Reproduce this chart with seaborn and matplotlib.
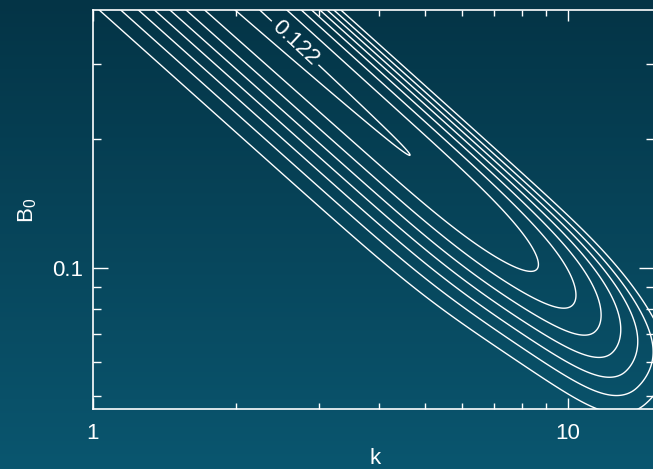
import numpy as np
import matplotlib
matplotlib.use("Agg")
import matplotlib.pyplot as plt
import seaborn as sns
from matplotlib.colors import LinearSegmentedColormap
from matplotlib.ticker import FixedLocator, FixedFormatter, NullFormatter

sns.set_theme(style="ticks")
plt.rcParams['font.family'] = ['Liberation Sans', 'DejaVu Sans']
plt.rcParams['mathtext.fontset'] = 'custom'
plt.rcParams['mathtext.rm'] = 'Liberation Sans'
plt.rcParams['mathtext.it'] = 'Liberation Sans'

# axis ranges
k_range = [1.0, 15.17]
b0_range = [0.0466, 0.4027]

# contour levels of the growth rate
contour_levels = [0.0271, 0.0407, 0.0542, 0.0678, 0.0813, 0.0949, 0.1085, 0.122]
labelled_level = 0.122
label_pos = (2.70, 0.342)
peak_rate = 0.1356

x_major = [1, 10]
x_major_labels = ["1", "10"]
x_minor = [2, 3, 4, 5, 6, 7, 8, 9]
y_major = [0.1]
y_major_labels = ["0.1"]
y_minor = [0.05, 0.06, 0.07, 0.08, 0.09, 0.2, 0.3]

# growth-rate model in log coordinates (u = log10 k, v = log10 B0)
ridge_offset = -0.068      # log10(k*B0) along the ridge crest
ridge_bend = 0.25
plateau = 0.91
plateau_slope = 0.0144
cutoff_start = 1.3
cutoff_width = 1.33
cutoff_power = 3.25
width_low = 0.18
width_high = 0.164
cliff_width = 0.2025


def softplus(x, s):
    return s * np.logaddexp(0.0, x / s)


def growth(u, v):
    q = u - v
    p = u + v
    centre = ridge_offset - ridge_bend * softplus(q - 1.9, 0.1) ** 2
    amp = (plateau - plateau_slope * (q - 0.72)
           - (softplus(q - cutoff_start, 0.08) / cutoff_width) ** cutoff_power)
    sig_low = width_low - 0.1 * softplus(q - 1.9, 0.15)
    d = p - centre
    log_prof = np.where(d < 0,
                        -0.5 * (d / sig_low) ** 2,
                        -0.5 * (d / width_high) ** 2 - (d / cliff_width) ** 6)
    return peak_rate * amp * np.exp(log_prof)


u = np.linspace(-0.05, 1.25, 800)
v = np.linspace(-1.40, -0.35, 700)
U, V = np.meshgrid(u, v)
K = 10 ** U
B = 10 ** V
G = growth(U, V)
plain_levels = [l for l in contour_levels if l != labelled_level]

W, H = 653, 469
fig = plt.figure(figsize=(W / 100, H / 100), dpi=100)

# background gradient
bg = fig.add_axes([0, 0, 1, 1], zorder=-5)
grad = LinearSegmentedColormap.from_list("bg", ["#043446", "#0a566f"])
bg.imshow(np.linspace(0, 1, 256)[:, None], aspect="auto", cmap=grad,
          extent=[0, 1, 0, 1], origin="upper")
bg.set_axis_off()

ax = fig.add_axes([93 / W, 1 - 409 / H, (653.5 - 93) / W, (409 - 10) / H])
ax.set_facecolor("none")
ax.set_xscale("log")
ax.set_yscale("log")
ax.set_xlim(*k_range)
ax.set_ylim(*b0_range)

ax.contour(K, B, G, levels=plain_levels, colors="white", linewidths=1.0)
cs_lab = ax.contour(K, B, G, levels=[labelled_level], colors="white", linewidths=1.0)
ax.clabel(cs_lab, manual=[label_pos], inline=True, inline_spacing=4,
          fmt=lambda val: f"{val:.3f}", fontsize=16, colors="white")

for s in ax.spines.values():
    s.set_color("white")
    s.set_linewidth(1.2)

ax.xaxis.set_major_locator(FixedLocator(x_major))
ax.xaxis.set_major_formatter(FixedFormatter(x_major_labels))
ax.xaxis.set_minor_locator(FixedLocator(x_minor))
ax.xaxis.set_minor_formatter(NullFormatter())
ax.yaxis.set_major_locator(FixedLocator(y_major))
ax.yaxis.set_major_formatter(FixedFormatter(y_major_labels))
ax.yaxis.set_minor_locator(FixedLocator(y_minor))
ax.yaxis.set_minor_formatter(NullFormatter())

ax.tick_params(axis="x", which="major", direction="in", length=8, width=1,
               color="white", labelcolor="white", labelsize=16, pad=10,
               top=True, bottom=True)
ax.tick_params(axis="x", which="minor", direction="in", length=4, width=1,
               color="white", top=True, bottom=True)
ax.tick_params(axis="y", which="major", direction="in", length=11, width=1,
               color="white", labelcolor="white", labelsize=16, pad=7,
               left=True, right=True)
ax.tick_params(axis="y", which="minor", direction="in", length=6, width=1,
               color="white", left=True, right=True)

# axis titles
fig.text(375 / W, 1 - 458 / H, "k", color="white", fontsize=16,
         ha="center", va="center")
fig.text(28 / W, 1 - 210 / H, "B$_0$", color="white", fontsize=16,
         ha="center", va="center", rotation=90)

fig.savefig("out.png", dpi=100)
